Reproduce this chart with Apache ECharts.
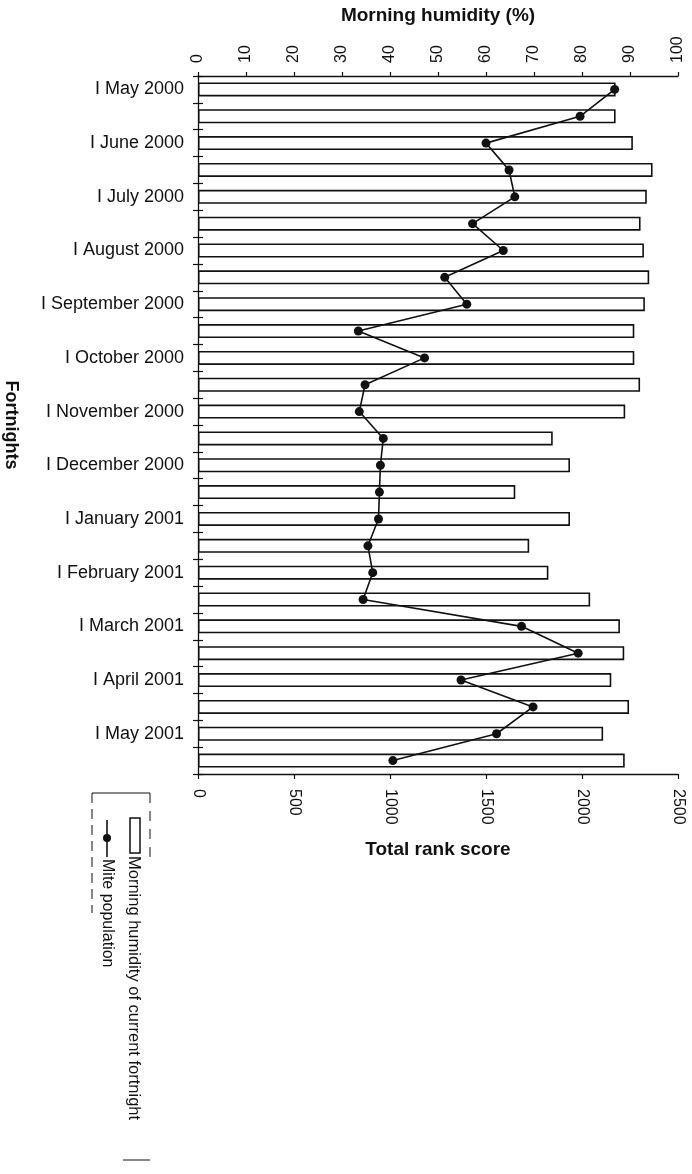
<!DOCTYPE html>
<html>
<head>
<meta charset="utf-8">
<script src="https://cdn.jsdelivr.net/npm/echarts@6/dist/echarts.min.js"></script>
<style>
  html, body { margin: 0; padding: 0; background: #fff; }
  #chart { width: 692px; height: 1174px; }
</style>
</head>
<body>
<div id="chart"></div>
<script>
const fortnights = [
  'I May 2000', 'II May 2000', 'I June 2000', 'II June 2000',
  'I July 2000', 'II July 2000', 'I August 2000', 'II August 2000',
  'I September 2000', 'II September 2000', 'I October 2000', 'II October 2000',
  'I November 2000', 'II November 2000', 'I December 2000', 'II December 2000',
  'I January 2001', 'II January 2001', 'I February 2001', 'II February 2001',
  'I March 2001', 'II March 2001', 'I April 2001', 'II April 2001',
  'I May 2001', 'II May 2001'
];
const morningHumidity = [
  87.0, 87.0, 90.6, 94.7, 93.5, 92.2, 92.9, 94.0, 93.1, 90.9, 90.9, 92.1, 89.0,
  73.9, 77.5, 66.1, 77.5, 69.0, 73.0, 81.7, 87.9, 88.8, 86.1, 89.8, 84.4, 88.9
];
const mitePopulation = [
  2170, 1990, 1500, 1620, 1650, 1430, 1590, 1285, 1400, 835, 1180, 870, 840,
  965, 950, 945, 940, 885, 910, 860, 1685, 1980, 1370, 1745, 1555, 1015
];
const humidityAxis = { min: 0, max: 100, interval: 10 };
const rankAxis = { min: 0, max: 2500, interval: 500 };
const seriesNames = ['Morning humidity of current fortnight', 'Mite population'];

const FONT = "'Liberation Sans', Arial, Helvetica, sans-serif";
const INK = '#111';

const chart = echarts.init(document.getElementById('chart'), null, { renderer: 'canvas' });

const legendGraphic = [
  // legend frame fragments
  { type: 'line', shape: { x1: 92, y1: 793, x2: 150, y2: 793 }, style: { stroke: INK, lineWidth: 1 } },
  { type: 'line', shape: { x1: 92, y1: 793, x2: 92, y2: 913 }, style: { stroke: INK, lineWidth: 1, lineDash: [10, 6] } },
  { type: 'line', shape: { x1: 150, y1: 793, x2: 150, y2: 860 }, style: { stroke: INK, lineWidth: 1, lineDash: [10, 8] } },
  { type: 'line', shape: { x1: 123, y1: 1160, x2: 150, y2: 1160 }, style: { stroke: INK, lineWidth: 1 } },
  // humidity swatch
  { type: 'rect', shape: { x: 130, y: 818, width: 10, height: 35 }, style: { fill: '#fff', stroke: INK, lineWidth: 1.5 } },
  { type: 'text', x: 134, y: 856, rotation: -Math.PI / 2,
    style: { text: seriesNames[0], x: 0, y: 0, align: 'left', verticalAlign: 'middle', font: '16.5px ' + FONT, fill: INK } },
  // mite swatch
  { type: 'line', shape: { x1: 107, y1: 820, x2: 107, y2: 857 }, style: { stroke: INK, lineWidth: 1.6 } },
  { type: 'circle', shape: { cx: 107, cy: 838, r: 4 }, style: { fill: INK } },
  { type: 'text', x: 107, y: 859, rotation: -Math.PI / 2,
    style: { text: seriesNames[1], x: 0, y: 0, align: 'left', verticalAlign: 'middle', font: '16px ' + FONT, fill: INK } }
];

const plain = v => String(v);

const option = {
  backgroundColor: '#fff',
  animation: false,
  textStyle: { fontFamily: FONT, color: INK },
  grid: { left: 198, right: 14, top: 76, bottom: 400, containLabel: false, outerBoundsMode: 'none' },
  xAxis: [
    {
      type: 'value', position: 'top', gridIndex: 0,
      min: humidityAxis.min, max: humidityAxis.max, interval: humidityAxis.interval,
      name: 'Morning humidity (%)', nameLocation: 'middle', nameGap: 51,
      nameTextStyle: { fontSize: 19, fontWeight: 'bold', color: INK, fontFamily: FONT },
      axisLine: { show: true, lineStyle: { color: INK, width: 1.3 } },
      axisTick: { show: true, length: 4, lineStyle: { color: INK, width: 1.2 } },
      axisLabel: { rotate: -90, margin: 13, fontSize: 16, color: INK, fontFamily: FONT, formatter: plain },
      splitLine: { show: false }
    },
    {
      type: 'value', position: 'bottom', gridIndex: 0,
      min: rankAxis.min, max: rankAxis.max, interval: rankAxis.interval,
      name: 'Total rank score', nameLocation: 'middle', nameGap: 66,
      nameTextStyle: { fontSize: 19, fontWeight: 'bold', color: INK, fontFamily: FONT },
      axisLine: { show: true, lineStyle: { color: INK, width: 1.3 } },
      axisTick: { show: true, length: 5, lineStyle: { color: INK, width: 1.2 } },
      axisLabel: { rotate: -90, margin: 15, fontSize: 16, color: INK, fontFamily: FONT, formatter: plain },
      splitLine: { show: false }
    }
  ],
  yAxis: [
    {
      type: 'category', data: fortnights, inverse: true, position: 'left', gridIndex: 0,
      name: 'Fortnights', nameLocation: 'middle', nameGap: 178, nameRotate: -90,
      nameTextStyle: { fontSize: 18, fontWeight: 'bold', color: INK, fontFamily: FONT },
      axisLine: { show: true, lineStyle: { color: INK, width: 1.3 } },
      axisTick: { show: true, interval: 0, length: 5, lineStyle: { color: INK, width: 1.2 } },
      axisLabel: { interval: 1, margin: 14, fontSize: 18, color: INK, fontFamily: FONT },
      splitLine: { show: false }
    },
    {
      type: 'category', data: fortnights, inverse: true, position: 'left', gridIndex: 0,
      axisLine: { show: false },
      axisTick: { show: true, inside: true, interval: 0, length: 5, lineStyle: { color: INK, width: 1.2 } },
      axisLabel: { show: false },
      splitLine: { show: false }
    }
  ],
  series: [
    {
      name: seriesNames[0], type: 'bar', xAxisIndex: 0, yAxisIndex: 0,
      data: morningHumidity, barWidth: 14,
      itemStyle: { color: '#fff', borderColor: INK, borderWidth: 1.6 },
      z: 2
    },
    {
      name: seriesNames[1], type: 'line', xAxisIndex: 1, yAxisIndex: 0,
      data: mitePopulation,
      symbol: 'circle', symbolSize: 9,
      lineStyle: { color: INK, width: 1.6 },
      itemStyle: { color: INK },
      z: 3
    }
  ],
  graphic: legendGraphic
};

chart.setOption(option);
</script>
</body>
</html>
